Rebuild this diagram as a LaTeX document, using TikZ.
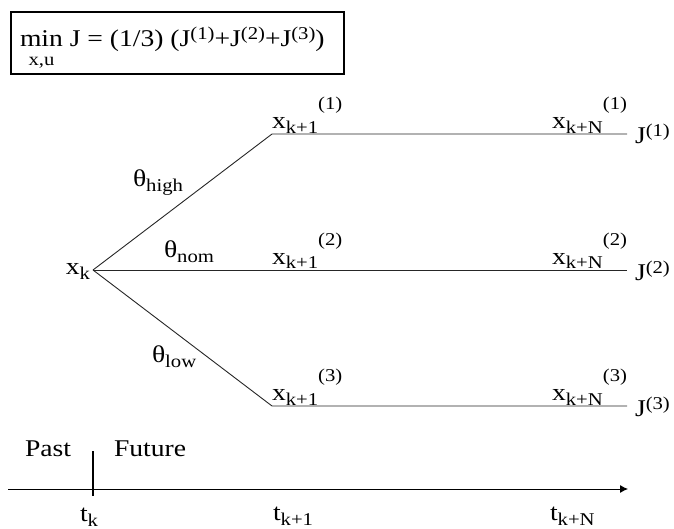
\documentclass[tikz,border=0pt]{standalone}
\usepackage{fontspec}
\setmainfont[FakeStretch=1.15]{Liberation Serif}
\usetikzlibrary{arrows.meta}
\newcommand{\lo}[1]{\raisebox{-5pt}{\fontsize{18}{18}\selectfont #1}}
\newcommand{\hix}[1]{\raisebox{19pt}{\fontsize{18}{18}\selectfont #1}}
\newcommand{\hij}[1]{\raisebox{7pt}{\fontsize{18}{18}\selectfont #1}}
\begin{document}
\begin{tikzpicture}[x=1pt,y=-1pt,
  every node/.style={inner sep=0pt,outer sep=0pt,font=\fontsize{24}{27}\selectfont},
  branch/.style={draw=black!85,line width=0.9pt},
  bw/.style={anchor=base west},
  be/.style={anchor=base east}]
\useasboundingbox (0,0) rectangle (674,529);
% objective box
\node[draw,line width=1.3pt,minimum width=333pt,minimum height=62pt,anchor=north west] (box) at (11,12) {};
\node[bw] (obj) at (20,47) {\begin{tabular}[t]{@{}c@{}}min\\[-8pt]{\fontsize{18}{18}\selectfont x,u}\end{tabular} J = (1/3) (J\hij{(1)}+J\hij{(2)}+J\hij{(3)})};
% tree
\coordinate (v) at (93,270);
\coordinate (a1) at (272,134); \coordinate (e1) at (627,134);
\coordinate (e2) at (627,270);
\coordinate (a3) at (272,406); \coordinate (e3) at (627,406);
\draw[branch] (v) -- (a1) -- (e1);
\draw[branch] (v) -- (e2);
\draw[branch] (v) -- (a3) -- (e3);
\node[be] (xk) at (90,274) {x\lo{k}};
\node[bw] (th) at (133,187) {θ\lo{high}};
\node[bw] (tn) at (164,258) {θ\lo{nom}};
\node[bw] (tl) at (152,362) {θ\lo{low}};
\node[bw] (x11) at (272,129) {x\lo{k+1}\hix{(1)}};
\node[bw] (x12) at (272,264) {x\lo{k+1}\hix{(2)}};
\node[bw] (x13) at (272,400) {x\lo{k+1}\hix{(3)}};
\node[be] (xN1) at (627,129) {x\lo{k+N}\hix{(1)}};
\node[be] (xN2) at (627,264) {x\lo{k+N}\hix{(2)}};
\node[be] (xN3) at (627,400) {x\lo{k+N}\hix{(3)}};
\node[bw] (J1) at (635,144) {J\hij{(1)}};
\node[bw] (J2) at (635,280) {J\hij{(2)}};
\node[bw] (J3) at (635,416) {J\hij{(3)}};
% time axis
\coordinate (t0) at (8,489);
\coordinate (t1) at (628,489);
\draw[line width=0.9pt,-{Latex[length=8pt,width=8pt]}] (t0) -- (t1);
\coordinate (ka) at (93,451); \coordinate (kb) at (93,496);
\draw[line width=2pt] (ka) -- (kb);
\node[bw] (past) at (25,456) {Past};
\node[bw] (fut) at (114,456) {Future};
\node[bw] (tk) at (80,521) {t\lo{k}};
\node[bw] (tk1) at (273,520) {t\lo{k+1}};
\node[bw] (tkN) at (550,520) {t\lo{k+N}};
\end{tikzpicture}
\end{document}
